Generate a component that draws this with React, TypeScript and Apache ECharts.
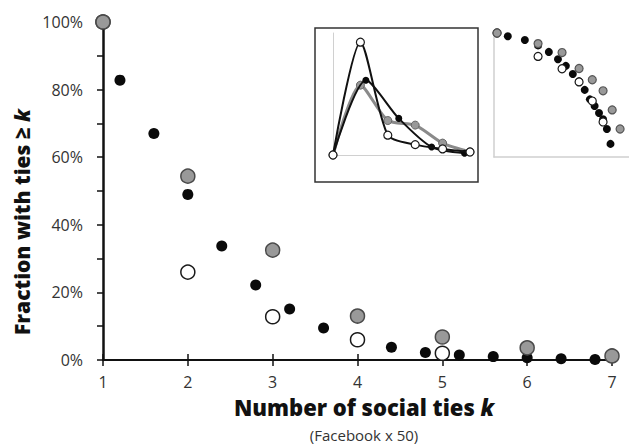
import React, { useEffect, useRef } from "react";
import * as echarts from "echarts";

// Cumulative fraction with ties >= k (three populations)
const blackK = [1.2, 1.6, 2.0, 2.4, 2.8, 3.2, 3.6, 4.0, 4.4, 4.8, 5.2, 5.6, 6.0, 6.4, 6.8];
const blackFrac = [0.828, 0.67, 0.49, 0.337, 0.222, 0.151, 0.095, 0.062, 0.038, 0.022, 0.015, 0.01, 0.007, 0.004, 0.0017];
const grayK = [1, 2, 3, 4, 5, 6, 7, 8];
const grayFrac = [1, 0.544, 0.325, 0.13, 0.068, 0.036, 0.012, 0.004];
const whiteK = [1, 2, 3, 4, 5, 6];
const whiteFrac = [1, 0.26, 0.128, 0.06, 0.02, 0.006];
const mainMaxK = 7;
const mainWhiteMaxK = 5;

// Inset: fraction with exactly k ties (distribution)
const pdfWhiteX = [0, 1, 2, 3, 4, 5];
const pdfWhite = [0, 0.74, 0.13, 0.068, 0.04, 0.02];
const pdfGrayX = [0, 1, 2, 3, 4, 5];
const pdfGray = [0, 0.458, 0.226, 0.196, 0.078, 0.02];
const pdfBlackX = [0, 1.2, 2.4, 3.6, 4.8];
const pdfBlack = [0, 0.49, 0.24, 0.052, 0.012];

const xTicks = ["1", "2", "3", "4", "5", "6", "7"];
const yTickStep = 20;

const FONT = "'Open Sans', Lato, sans-serif";

const zip = (xs: number[], ys: number[]) => xs.map((x, i) => [x, ys[i]]);

export default function App() {
  const ref = useRef<HTMLDivElement>(null);
  useEffect(() => {
    if (!ref.current) return;
    const chart = echarts.init(ref.current, undefined, { renderer: "svg" });

    const blackMain = zip(blackK, blackFrac.map((v) => v * 100)).filter((p) => p[0] <= mainMaxK);
    const grayMain = zip(grayK, grayFrac.map((v) => v * 100)).filter((p) => p[0] <= mainMaxK);
    const whiteMain = zip(whiteK, whiteFrac.map((v) => v * 100)).filter((p) => p[0] <= mainWhiteMaxK);

    const blackStyle = { color: "#0a0a0a", opacity: 1 };
    const grayStyle = { color: "#999", borderColor: "#4a4a4a", borderWidth: 1.5, opacity: 1 };
    const whiteStyle = { color: "#fff", borderColor: "#1a1a1a", borderWidth: 1.5, opacity: 1 };
    const grayStyleS = { color: "#999", borderColor: "#555", borderWidth: 1.2, opacity: 1 };
    const whiteStyleS = { color: "#fff", borderColor: "#1a1a1a", borderWidth: 1.2, opacity: 1 };

    const option: any = {
      animation: false,
      backgroundColor: "#fff",
      grid: [
        { left: 103, top: 22, width: 509, height: 338 },
        { left: 333, top: 33, width: 137, height: 122 },
        { left: 494, top: 33, width: 135, height: 124 },
      ],
      xAxis: [
        {
          gridIndex: 0,
          type: "value",
          min: 1,
          max: 7,
          interval: 1,
          axisLine: { lineStyle: { color: "#111", width: 2 } },
          axisTick: { show: true, length: 6, lineStyle: { color: "#111", width: 1.5 } },
          axisLabel: {
            color: "#333",
            fontSize: 16,
            fontFamily: FONT,
            margin: 14,
            formatter: (v: number) => xTicks[Math.round(v) - 1] ?? "",
          },
          splitLine: { show: false },
        },
        {
          gridIndex: 0,
          type: "value",
          min: 1,
          max: 7,
          interval: 1,
          position: "bottom",
          axisLine: { show: false },
          axisTick: { show: true, inside: true, length: 6, lineStyle: { color: "#111", width: 1.5 } },
          axisLabel: { show: false },
          splitLine: { show: false },
        },
        {
          gridIndex: 1,
          type: "value",
          min: 0,
          max: 5,
          axisLine: { lineStyle: { color: "#d0d0d0", width: 1 } },
          axisTick: { show: false },
          axisLabel: { show: false },
          splitLine: { show: false },
        },
        {
          gridIndex: 2,
          type: "log",
          min: 0.95,
          max: 9.3,
          axisLine: { lineStyle: { color: "#cfcfcf", width: 1.5 } },
          axisTick: { show: false },
          axisLabel: { show: false },
          splitLine: { show: false },
        },
      ],
      yAxis: [
        {
          gridIndex: 0,
          type: "value",
          min: 0,
          max: 100,
          interval: 10,
          axisLine: { show: true, lineStyle: { color: "#111", width: 2.5 } },
          axisTick: { show: true, length: 6, lineStyle: { color: "#111", width: 1.5 } },
          axisLabel: {
            color: "#333",
            fontSize: 16,
            fontFamily: FONT,
            margin: 20,
            formatter: (v: number) => (v % yTickStep === 0 ? v + "%" : ""),
          },
          splitLine: { show: false },
        },
        {
          gridIndex: 1,
          type: "value",
          min: 0,
          max: 0.8,
          axisLine: { show: true, lineStyle: { color: "#d0d0d0", width: 1 } },
          axisTick: { show: false },
          axisLabel: { show: false },
          splitLine: { show: false },
        },
        {
          gridIndex: 2,
          type: "log",
          min: 0.0008,
          max: 1,
          axisLine: { show: true, lineStyle: { color: "#cfcfcf", width: 1.5 } },
          axisTick: { show: false },
          axisLabel: { show: false },
          splitLine: { show: false },
        },
      ],
      series: [
        // main plot
        { type: "scatter", xAxisIndex: 0, yAxisIndex: 0, data: blackMain, symbolSize: 11, itemStyle: blackStyle, z: 3 },
        { type: "scatter", xAxisIndex: 0, yAxisIndex: 0, data: whiteMain, symbolSize: 14, itemStyle: whiteStyle, z: 4 },
        { type: "scatter", xAxisIndex: 0, yAxisIndex: 0, data: grayMain, symbolSize: 14, itemStyle: grayStyle, z: 5 },
        // inset 1: distributions
        {
          type: "line", xAxisIndex: 2, yAxisIndex: 1, data: zip(pdfGrayX, pdfGray), smooth: 0.25,
          symbol: "circle", symbolSize: 8, showSymbol: true,
          lineStyle: { color: "#8a8a8a", width: 3 }, itemStyle: { color: "#999", borderColor: "#666", borderWidth: 1, opacity: 1 }, z: 3,
        },
        {
          type: "line", xAxisIndex: 2, yAxisIndex: 1, data: zip(pdfBlackX, pdfBlack), smooth: 0.25,
          symbol: "circle", symbolSize: 7, showSymbol: true,
          lineStyle: { color: "#111", width: 2 }, itemStyle: { color: "#0a0a0a", opacity: 1 }, z: 4,
        },
        {
          type: "line", xAxisIndex: 2, yAxisIndex: 1, data: zip(pdfWhiteX, pdfWhite), smooth: 0.25,
          symbol: "circle", symbolSize: 8, showSymbol: true,
          lineStyle: { color: "#111", width: 2 }, itemStyle: whiteStyleS, z: 5,
        },
        // inset 2: log-log
        { type: "scatter", xAxisIndex: 3, yAxisIndex: 2, data: zip(blackK, blackFrac), symbolSize: 8, itemStyle: blackStyle, z: 3 },
        { type: "scatter", xAxisIndex: 3, yAxisIndex: 2, data: zip(whiteK, whiteFrac), symbolSize: 8, itemStyle: whiteStyleS, z: 4 },
        { type: "scatter", xAxisIndex: 3, yAxisIndex: 2, data: zip(grayK, grayFrac), symbolSize: 8, itemStyle: grayStyleS, z: 5 },
      ],
      graphic: [
        {
          type: "rect",
          shape: { x: 315, y: 28, width: 163, height: 154 },
          style: { fill: "none", stroke: "#333", lineWidth: 1.5 },
          z: 1,
        },
        {
          type: "text",
          x: 364,
          y: 407,
          style: {
            text: "{b|Number of social ties }{i|k}",
            textAlign: "center",
            textVerticalAlign: "middle",
            rich: {
              b: { fontFamily: FONT, fontWeight: 800, fontSize: 22, fill: "#111" },
              i: { fontFamily: FONT, fontWeight: 800, fontStyle: "italic", fontSize: 22, fill: "#111" },
            },
          },
        },
        {
          type: "text",
          x: 364,
          y: 435,
          style: {
            text: "(Facebook x 50)",
            textAlign: "center",
            textVerticalAlign: "middle",
            fontFamily: FONT,
            fontSize: 15,
            fill: "#333",
          },
        },
        {
          type: "text",
          x: 22,
          y: 222,
          rotation: Math.PI / 2,
          style: {
            text: "{b|Fraction with ties \u2265 }{i|k}",
            textAlign: "center",
            textVerticalAlign: "middle",
            rich: {
              b: { fontFamily: FONT, fontWeight: 800, fontSize: 21, fill: "#111" },
              i: { fontFamily: FONT, fontWeight: 800, fontStyle: "italic", fontSize: 21, fill: "#111" },
            },
          },
        },
      ],
    };
    chart.setOption(option);
    return () => chart.dispose();
  }, []);

  return (
    <div
      ref={ref}
      style={{ position: "fixed", left: 0, top: 0, width: 629, height: 447, background: "#fff" }}
    />
  );
}
